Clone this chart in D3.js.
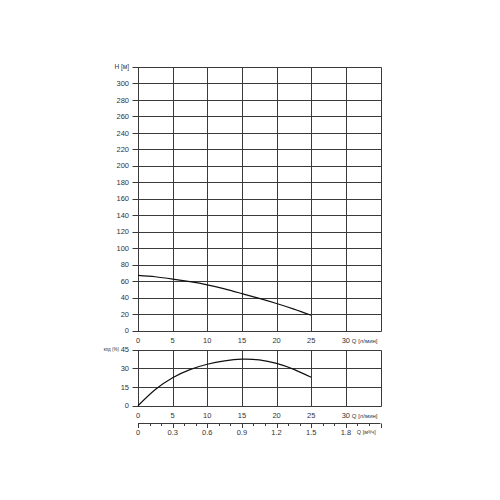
<!DOCTYPE html>
<html><head><meta charset="utf-8">
<script src="https://cdn.jsdelivr.net/npm/d3@7"></script>
<style>body{margin:0;background:#fff}svg{display:block}text{font-family:"Liberation Sans",Arial,sans-serif;fill:#333}</style>
</head><body><svg id="c" width="500" height="500"></svg>
<script>
const flowLmin = [0, 2.5, 5, 7.5, 10, 12.5, 15, 17.5, 20, 22.5, 25];
const headM = [67, 65.3, 62.5, 59.3, 55.5, 50.5, 44.8, 39, 32.8, 26, 18.5];
const effPct = [0, 13, 22.5, 29, 33.3, 36, 37.4, 36.8, 34, 29.2, 22.8];
const qTicks = [0, 5, 10, 15, 20, 25, 30];
const hTicks = d3.range(0, 301, 20);
const effTicks = [0, 15, 30, 45];
const m3hTicks = [0, 0.3, 0.6, 0.9, 1.2, 1.5, 1.8];

const svg = d3.select("#c");
const x = d3.scaleLinear().domain([0, 35]).range([138, 380.5]);
const yH = d3.scaleLinear().domain([0, 320]).range([330.5, 67]);
const yE = d3.scaleLinear().domain([0, 45]).range([405.7, 349.7]);
const xM = d3.scaleLinear().domain([0, 2.1]).range([138, 380.5]);
const gridC = "#3a3a3a";
const px = v => Math.round(v) + 0.5;

function panel(y, yt, topVal, labelTop) {
  const g = svg.append("g");
  g.selectAll("line.h").data(yt.concat([topVal])).join("line")
    .attr("x1", 132.5).attr("x2", px(x(35)))
    .attr("y1", d => px(y(d))).attr("y2", d => px(y(d)))
    .attr("stroke", gridC).attr("stroke-width", 1);
  g.selectAll("line.v").data(qTicks.concat([35])).join("line")
    .attr("x1", d => px(x(d))).attr("x2", d => px(x(d)))
    .attr("y1", px(y(topVal))).attr("y2", px(y(0)))
    .attr("stroke", gridC).attr("stroke-width", 1);
  g.selectAll("text.y").data(yt.concat(labelTop ? [topVal] : [])).join("text")
    .attr("x", 129).attr("y", d => y(d)).attr("dy", "0.35em")
    .attr("text-anchor", "end").attr("font-size", 7.5).text(d => d);
  g.selectAll("text.x").data(qTicks).join("text")
    .attr("x", d => x(d)).attr("y", y(0) + 10).attr("dy", "0.35em")
    .attr("text-anchor", "middle").attr("font-size", 7.5).text(d => d);
  g.append("text").attr("x", x(30) + 6).attr("y", y(0) + 10).attr("dy", "0.35em")
    .attr("font-size", 6).text("Q [л/мин]");
  return g;
}

panel(yH, hTicks, 320, false);
svg.append("text").attr("x", 129).attr("y", yH(320)).attr("dy", "0.35em")
  .attr("text-anchor", "end").attr("font-size", 6.5).text("H [м]");

panel(yE, [0, 15, 30], 45, true);
svg.append("text").attr("x", 119).attr("y", yE(45)).attr("dy", "0.35em")
  .attr("text-anchor", "end").attr("font-size", 4.5).text("кпд (%)");

const lineH = d3.line().x((d, i) => x(flowLmin[i])).y(d => yH(d)).curve(d3.curveNatural);
svg.append("path").attr("d", lineH(headM)).attr("fill", "none").attr("stroke", "#111").attr("stroke-width", 1.2);
const lineE = d3.line().x((d, i) => x(flowLmin[i])).y(d => yE(d)).curve(d3.curveNatural);
svg.append("path").attr("d", lineE(effPct)).attr("fill", "none").attr("stroke", "#111").attr("stroke-width", 1.2);

const ay = 423.5;
svg.append("line").attr("x1", xM(0)).attr("x2", xM(2.1)).attr("y1", ay).attr("y2", ay)
  .attr("stroke", gridC).attr("stroke-width", 1);
const minor = d3.range(0, 22).map(i => i / 10);
svg.selectAll("line.mt").data(minor).join("line")
  .attr("x1", d => px(xM(d))).attr("x2", d => px(xM(d)))
  .attr("y1", ay).attr("y2", (d, i) => ay + (i % 3 === 0 || i === 21 ? 4.5 : 2.5))
  .attr("stroke", gridC).attr("stroke-width", 1);
svg.selectAll("text.m").data(m3hTicks).join("text")
  .attr("x", d => xM(d)).attr("y", 432).attr("dy", "0.35em")
  .attr("text-anchor", "middle").attr("font-size", 7.5).text(d => d);
svg.append("text").attr("x", xM(1.8) + 11).attr("y", 432.5).attr("dy", "0.35em")
  .attr("font-size", 5.5).text("Q [м³/ч]");
</script></body></html>
